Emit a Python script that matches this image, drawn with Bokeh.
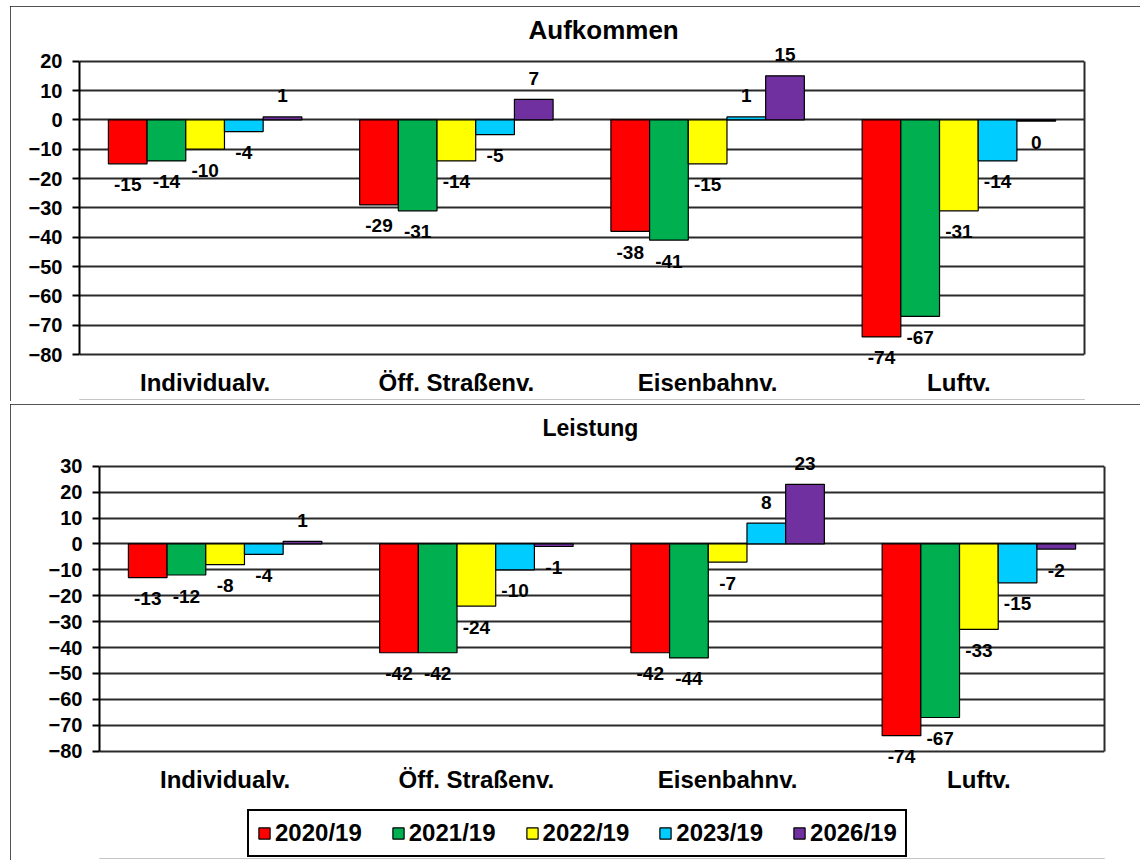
from bokeh.plotting import figure
from bokeh.models import (ColumnDataSource, LabelSet, Legend, LegendItem,
                          FixedTicker, Range1d, LinearAxis)
from bokeh.core.properties import value
from bokeh.transform import dodge
from bokeh.embed import file_html
from bokeh.resources import INLINE

CATEGORIES = ["Individualv.", "Öff. Straßenv.", "Eisenbahnv.", "Luftv."]
SERIES = ["2020/19", "2021/19", "2022/19", "2023/19", "2026/19"]
COLORS = ["#FF0000", "#00B050", "#FFFF00", "#00CCFF", "#7030A0"]

# Aufkommen (change vs. 2019, %)
AUF_2020 = [-15, -29, -38, -74]
AUF_2021 = [-14, -31, -41, -67]
AUF_2022 = [-10, -14, -15, -31]
AUF_2023 = [-4, -5, 1, -14]
AUF_2026 = [1, 7, 15, -0.4]

# Leistung (change vs. 2019, %)
LEI_2020 = [-13, -42, -42, -74]
LEI_2021 = [-12, -42, -44, -67]
LEI_2022 = [-8, -24, -7, -33]
LEI_2023 = [-4, -10, 8, -15]
LEI_2026 = [1, -1, 23, -2]

TICKS_TOP = [-80, -70, -60, -50, -40, -30, -20, -10, 0, 10, 20]
TICKS_BOTTOM = [-80, -70, -60, -50, -40, -30, -20, -10, 0, 10, 20, 30]

FONT = "Liberation Sans"
GROUP = 0.77
BW = GROUP / 5
GRID = "#2a2a2a"


def make_panel(title, series_vals, ticks, panel, title_size, title_left,
               with_legend=False):
    # panel: (height, border_left, border_right, frame_top, frame_bottom,
    #         px position of top tick, px position of bottom tick)
    height, bl, br, ftop, fbot, py_hi, py_lo = panel
    lo, hi = ticks[0], ticks[-1]
    k = (py_lo - py_hi) / (hi - lo)
    y_end = hi + (py_hi - ftop) / k
    y_start = lo - (fbot - py_lo) / k

    p = figure(x_range=CATEGORIES, y_range=Range1d(y_start, y_end),
               width=1130, height=height, output_backend="svg",
               toolbar_location=None, min_border_left=bl,
               min_border_right=br, min_border_top=ftop,
               min_border_bottom=height - fbot, title=title)
    p.styles = {"outline": "2px solid #1a1a1a", "outline-offset": "-2px"}
    p.title.align = "left"
    p.title.text_font = FONT
    p.title.text_font_size = title_size
    p.title.text_font_style = "bold"
    p.title.text_color = "black"
    p.title.offset = title_left
    p.title.standoff = 0

    p.xgrid.grid_line_color = None
    p.ygrid.grid_line_color = GRID
    p.ygrid.grid_line_width = 2
    p.outline_line_color = None
    p.xaxis.visible = False

    p.yaxis.ticker = FixedTicker(ticks=ticks)
    p.yaxis.bounds = (lo, hi)
    p.yaxis.major_label_text_font = FONT
    p.yaxis.major_label_text_font_size = "20px"
    p.yaxis.major_label_text_font_style = "bold"
    p.yaxis.major_label_text_color = "black"
    p.yaxis.axis_line_color = "black"
    p.yaxis.axis_line_width = 2
    p.yaxis.major_tick_out = 7
    p.yaxis.major_tick_in = 0
    p.yaxis.major_tick_line_width = 2
    p.yaxis.minor_tick_line_color = None
    p.yaxis.major_label_standoff = 10

    right_axis = LinearAxis(ticker=FixedTicker(ticks=[]), bounds=(lo, hi),
                            axis_line_color=GRID, axis_line_width=2,
                            major_tick_line_color=None,
                            minor_tick_line_color=None)
    p.add_layout(right_axis, "right")

    # category labels below the value axis
    csrc = ColumnDataSource(dict(cat=CATEGORIES, y=[lo] * len(CATEGORIES)))
    p.add_layout(LabelSet(x="cat", y="y", text="cat", source=csrc,
                          y_offset=-28, text_align="center",
                          text_baseline="middle", text_font=value(FONT),
                          text_font_size=value("24px"),
                          text_font_style="bold", text_color="black"))

    items = []
    for i, (name, vals, col) in enumerate(zip(SERIES, series_vals, COLORS)):
        off = (i - 2) * BW
        labels = [str(int(round(v))) for v in vals]
        yoff = [21 if v > 0 else -21 for v in vals]
        src = ColumnDataSource(dict(cat=CATEGORIES, val=vals, lab=labels,
                                    yoff=yoff))
        r = p.vbar(x=dodge("cat", off, range=p.x_range), top="val", bottom=0,
                   width=BW, source=src, fill_color=col, line_color="black",
                   line_width=1.2)
        items.append(LegendItem(label=name, renderers=[r]))
        p.add_layout(LabelSet(x=dodge("cat", off, range=p.x_range), y="val",
                              text="lab", y_offset="yoff", source=src,
                              text_align="center", text_baseline="middle",
                              text_font=value(FONT),
                              text_font_size=value("19px"),
                              text_font_style="bold", text_color="black"))

    if with_legend:
        lg = Legend(items=items, orientation="horizontal")
        lg.label_text_font = FONT
        lg.label_text_font_size = "24px"
        lg.label_text_font_style = "bold"
        lg.label_text_color = "black"
        lg.glyph_width = 14
        lg.glyph_height = 14
        lg.label_standoff = 4
        lg.spacing = 29
        lg.padding = 8
        lg.margin = 0
        lg.border_line_color = "black"
        lg.border_line_width = 2
        lg.border_line_alpha = 1
        lg.background_fill_alpha = 1
        lg.location = (148, 1)
        p.add_layout(lg, "center")
    return p


# panel geometry in px, relative to each panel's top-left corner
PANEL_TOP = (395, 69, 56, 38, 393, 54.7, 348)
PANEL_BOTTOM = (456, 89, 36, 36, 454, 61.7, 346.7)

p1 = make_panel("Aufkommen",
                [AUF_2020, AUF_2021, AUF_2022, AUF_2023, AUF_2026],
                TICKS_TOP, PANEL_TOP, "26px", 449)
p1.margin = (6, 0, 0, 10)
p2 = make_panel("Leistung",
                [LEI_2020, LEI_2021, LEI_2022, LEI_2023, LEI_2026],
                TICKS_BOTTOM, PANEL_BOTTOM, "23px", 443, with_legend=True)
p2.margin = (3, 0, 0, 10)

open("out.html", "w").write(file_html([p1, p2], INLINE))
